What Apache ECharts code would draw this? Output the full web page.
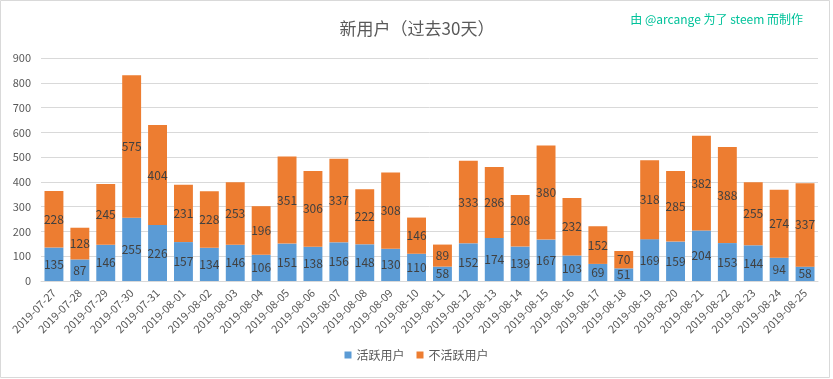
<!DOCTYPE html>
<html><head><meta charset="utf-8">
<script src="https://cdn.jsdelivr.net/npm/echarts@6/dist/echarts.min.js"></script>
<style>html,body{margin:0;padding:0;background:#fff}#c{width:833px;height:379px}</style>
</head><body><div id="c"></div>
<script>
const categories = ["2019-07-27","2019-07-28","2019-07-29","2019-07-30","2019-07-31","2019-08-01","2019-08-02","2019-08-03","2019-08-04","2019-08-05","2019-08-06","2019-08-07","2019-08-08","2019-08-09","2019-08-10","2019-08-11","2019-08-12","2019-08-13","2019-08-14","2019-08-15","2019-08-16","2019-08-17","2019-08-18","2019-08-19","2019-08-20","2019-08-21","2019-08-22","2019-08-23","2019-08-24","2019-08-25"];
const activeUsers = [135,87,146,255,226,157,134,146,106,151,138,156,148,130,110,58,152,174,139,167,103,69,51,169,159,204,153,144,94,58];
const inactiveUsers = [228,128,245,575,404,231,228,253,196,351,306,337,222,308,146,89,333,286,208,380,232,152,70,318,285,382,388,255,274,337];
const seriesNames = ["活跃用户","不活跃用户"];
const titleText = "新用户（过去30天）";
const creditText = "由 @arcange 为了 steem 而制作";

const font = '"Noto Sans CJK SC", "Open Sans", sans-serif';
const chart = echarts.init(document.getElementById('c'));
const labelStyle = {show:true, position:'inside', color:'#404040', fontSize:12, fontFamily:font};
chart.setOption({
  animation:false,
  graphic:[{type:'rect', shape:{x:0.5,y:0.5,width:829,height:377}, style:{fill:'none', stroke:'#d9d9d9', lineWidth:1}, silent:true}],
  title:[
    {text:titleText, left:412, top:15, textAlign:'center', textStyle:{fontSize:17, fontWeight:'normal', color:'#595959', fontFamily:font}},
    {text:creditText, right:25, top:8, textStyle:{fontSize:12, fontWeight:'normal', color:'#00c29a', fontFamily:font}}
  ],
  legend:{bottom:13, left:'center', itemWidth:7, itemHeight:7, itemGap:12, icon:'rect',
    textStyle:{fontSize:12, color:'#595959', fontFamily:font}},
  grid:{left:41, right:15, top:58, bottom:98, containLabel:false},
  xAxis:{type:'category', data:categories,
    axisLine:{lineStyle:{color:'#d9d9d9'}}, axisTick:{show:false},
    axisLabel:{rotate:45, interval:0, color:'#595959', fontSize:11, fontFamily:font, margin:10}},
  yAxis:{type:'value', min:0, max:900, interval:100,
    axisLine:{show:false}, axisTick:{show:false},
    splitLine:{lineStyle:{color:'#d9d9d9'}},
    axisLabel:{color:'#595959', fontSize:11, fontFamily:font, margin:10}},
  series:[
    {name:seriesNames[0], type:'bar', stack:'a', data:activeUsers, barCategoryGap:'27%', itemStyle:{color:'#5b9bd5'}, label:labelStyle},
    {name:seriesNames[1], type:'bar', stack:'a', data:inactiveUsers, itemStyle:{color:'#ed7d31'}, label:labelStyle}
  ]
});
</script></body></html>
